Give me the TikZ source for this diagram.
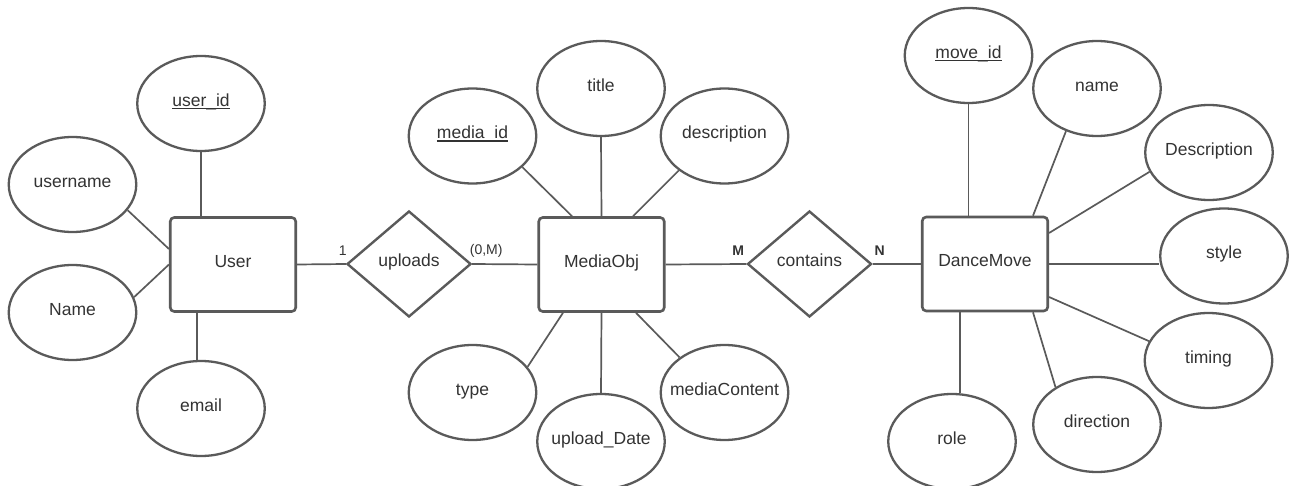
\documentclass[tikz,border=0pt]{standalone}
\usepackage{fontspec}
\setmainfont{Liberation Sans}
\usetikzlibrary{shapes.geometric,calc}

\definecolor{edge}{HTML}{5A5A5A}
\definecolor{ink}{HTML}{333333}

% key attribute: text with a rule just below the baseline
\newcommand\keyattr[1]{\setbox0\hbox{#1}\rlap{\copy0}\rule[-2.6pt]{\wd0}{1.1pt}}
% label of zero width, so that the shape keeps its own size
\newcommand\lbl[1]{\makebox[0pt]{#1}}

\begin{document}
\begin{tikzpicture}[x=1pt,y=-1pt,
  font=\fontsize{17.5}{21}\selectfont, text=ink,
  attr/.style={ellipse, draw=edge, line width=2.3pt, fill=white,
    minimum width=127.5pt, minimum height=95pt, inner sep=0pt,
    text height=12pt, text depth=6pt},
  entity/.style={rectangle, rounded corners=4pt, draw=edge, line width=2.6pt,
    fill=white, minimum width=125.5pt, minimum height=94pt, inner sep=0pt,
    text height=12pt, text depth=6pt},
  rel/.style={diamond, draw=edge, line width=2.4pt, fill=white,
    minimum width=124pt, minimum height=106pt, inner sep=0pt, aspect=1.17,
    text height=12pt, text depth=6pt},
  link/.style={draw=edge, line width=1.7pt},
  card/.style={font=\fontsize{14}{16}\selectfont, inner sep=0pt},
  cardb/.style={font=\fontsize{14}{16}\selectfont\bfseries, inner sep=0pt}]

\fill[white] (0,0) rectangle (1294,486);
\useasboundingbox (0,0) rectangle (1294,486);

% entities and relationships
\node[entity] (User)      at (233,264.5)   {\lbl{User}};
\node[rel]    (uploads)   at (409,264)     {\lbl{uploads}};
\node[entity] (MediaObj)  at (601.5,264.5) {\lbl{MediaObj}};
\node[rel]    (contains)  at (809.5,264)   {\lbl{contains}};
\node[entity] (DanceMove) at (985,264)     {\lbl{DanceMove}};

% attributes of User
\node[attr] (user_id)  at (201,103.5)  {\lbl{\keyattr{user\_id}}};
\node[attr] (username) at (72.5,184.5) {\lbl{username}};
\node[attr] (Name)     at (72.5,312.5) {\lbl{Name}};
\node[attr] (email)    at (201,408.5)  {\lbl{email}};

% attributes of MediaObj
\node[attr] (media_id)     at (472.5,136)   {\lbl{\keyattr{media\_id}}};
\node[attr] (title)        at (601,88.5)    {\lbl{title}};
\node[attr] (description)  at (724.5,136)   {\lbl{description}};
\node[attr] (type)         at (472.5,392.5) {\lbl{type}};
\node[attr] (upload_Date)  at (601,441.5)   {\lbl{upload\_Date}};
\node[attr] (mediaContent) at (724.5,392.5) {\lbl{mediaContent}};

% attributes of DanceMove
\node[attr] (move_id)     at (968.5,55.5)   {\lbl{\keyattr{move\_id}}};
\node[attr] (name)        at (1097,88.5)    {\lbl{name}};
\node[attr] (Description) at (1209,152.5)   {\lbl{Description}};
\node[attr] (style)       at (1224,256)     {\lbl{style}};
\node[attr] (timing)      at (1208.5,360.5) {\lbl{timing}};
\node[attr] (direction)   at (1097,424.5)   {\lbl{direction}};
\node[attr] (role)        at (952,441.5)    {\lbl{role}};

% User connectors
\draw[link] (username.-25) -- ($(User.west)+(0,-15.5)$);
\draw[link] (Name.14) -- (User.west);
\draw[link] (user_id.south) -- (user_id.south |- User.north);
\draw[link] ($(email.north)+(-4,0)$) -- ($(User.south)+(-36,0)$);

% relationship lines
\draw[link] (User.east) -- (uploads.west);
\draw[link] (uploads.east) -- (MediaObj.west);
\draw[link] (MediaObj.east) -- (contains.west);
\draw[link] (contains.east) -- (DanceMove.west);

% MediaObj connectors
\draw[link] (media_id.-32) -- ($(MediaObj.north)+(-29.5,0)$);
\draw[link] (title.south) -- (MediaObj.north);
\draw[link] (description.217.7) -- ($(MediaObj.north)+(31.5,0)$);
\draw[link] (type.25.5) -- ($(MediaObj.south)+(-38.5,0)$);
\draw[link] (upload_Date.north) -- (MediaObj.south);
\draw[link] (mediaContent.142.8) -- ($(MediaObj.south)+(34.5,0)$);

% DanceMove connectors
\draw[link] (move_id.south) -- (move_id.south |- DanceMove.north);
\draw[link] (name.-126.3) -- ($(DanceMove.north)+(48,0)$);
\draw[link] (Description.198.9) -- ($(DanceMove.east)+(0,-31)$);
\draw[link] (DanceMove.east) -- (DanceMove.east -| style.west);
\draw[link] (timing.162.1) -- ($(DanceMove.east)+(0,33)$);
\draw[link] (direction.138.9) -- ($(DanceMove.south)+(48,0)$);
\draw[link] ($(DanceMove.south)+(-25,0)$) -- ($(role.north)+(8,0)$);

% cardinalities
\node[card]  (c1)  at ($(uploads.west)+(-3,-13)$)  {1};
\node[card]  (c0M) at ($(uploads.east)+(14,-13)$)  {(0,M)};
\node[cardb] (cM)  at ($(contains.west)+(-8,-13)$) {M};
\node[cardb] (cN)  at ($(contains.east)+(7,-13)$)  {N};

\end{tikzpicture}
\end{document}
